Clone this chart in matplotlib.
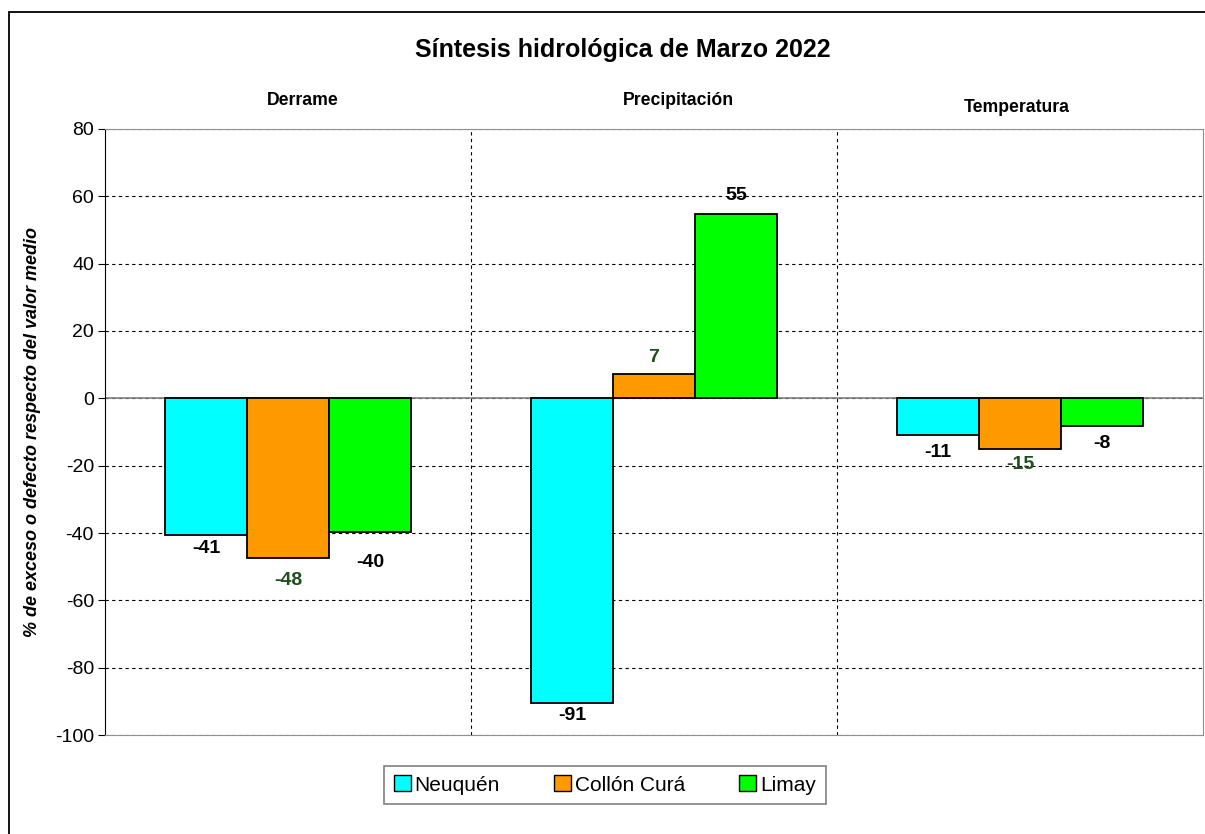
import numpy as np
import matplotlib.pyplot as plt
from matplotlib.patches import Rectangle

plt.rcParams['font.family'] = ['Liberation Sans', 'DejaVu Sans']
plt.rcParams['axes.unicode_minus'] = False

# -----------------------------
# Data
# -----------------------------
groups = ["Derrame", "Precipitación", "Temperatura"]
series = ["Neuquén", "Collón Curá", "Limay"]
neuquen = [-40.7, -90.6, -11.0]
collon_cura = [-47.5, 7.1, -15.1]
limay = [-39.8, 54.9, -8.3]

colors = ["#00FFFF", "#FF9900", "#00FF00"]
label_colors = ["black", "#1E4D1E", "black"]
# distance (px) of each value label from the bar end, per series / group
label_gaps = [[13, 12, 17], [22, 17, 15], [30, 18, 17]]

# -----------------------------
# Figure
# -----------------------------
fig = plt.figure(figsize=(12.05, 8.34), dpi=100)
ax = fig.add_axes([105 / 1205, 1 - 735 / 834, 1098 / 1205, 606 / 834])

x = np.arange(len(groups))
width = 0.224
offsets = [-width, 0, width]

for vals, off, col, lcol, gaps in zip([neuquen, collon_cura, limay], offsets, colors,
                                      label_colors, label_gaps):
    bars = ax.bar(x + off, vals, width, color=col, edgecolor="black", linewidth=1.3, zorder=3)
    for b, v, g in zip(bars, vals, gaps):
        dy = g if v >= 0 else -g
        ax.annotate(f"{round(v):.0f}", (b.get_x() + b.get_width() / 2, v),
                    xytext=(0, dy), textcoords="offset pixels",
                    ha="center", va="center", fontsize=14, fontweight="bold",
                    color=lcol, zorder=4)

ax.set_xlim(-0.5, 2.5)
ax.set_ylim(-100, 80)
ax.set_yticks(np.arange(-100, 81, 20))
ax.set_xticks([])
ax.tick_params(axis="y", labelsize=14, length=5, direction="out", pad=3)

ax.yaxis.grid(True, linestyle=(0, (3, 3)), color="black", linewidth=0.8)
ax.set_axisbelow(True)
for xs in [0.5, 1.5]:
    ax.axvline(xs, color="black", linestyle=(0, (3, 3)), linewidth=0.8, zorder=1)
ax.axhline(0, color="#808080", linewidth=1.2, zorder=2)

ax.spines["left"].set_color("black")
for s in ["top", "right", "bottom"]:
    ax.spines[s].set_color("#909090")

ax.set_ylabel("% de exceso o defecto respecto del valor medio", fontsize=13,
              fontstyle="italic", fontweight="bold")
ax.yaxis.set_label_coords(-0.058, 0.5)

# panel titles
for xi, yi, g in zip([0.041, 1.068, 1.992], [88.6, 88.6, 86.5], groups):
    ax.text(xi, yi, g, ha="center", va="center", fontsize=12.7, fontweight="bold")

fig.text(623 / 1205, 1 - 50 / 834, "Síntesis hidrológica de Marzo 2022",
         ha="center", va="center", fontsize=18, fontweight="bold")

# outer frame
fig.patches.append(Rectangle((9 / 1205, -0.05), 1.1, 1 - 12 / 834 + 0.05,
                             transform=fig.transFigure, fill=False,
                             edgecolor="black", linewidth=1.3))

handles = [Rectangle((0, 0), 1, 1, facecolor=c, edgecolor="black", linewidth=1) for c in colors]
leg = fig.legend(handles, series, loc="center", bbox_to_anchor=(605 / 1205, 1 - 785 / 834),
                 ncol=3, fontsize=15, frameon=True, fancybox=False, edgecolor="#606060",
                 handlelength=0.8, handleheight=0.8, handletextpad=0.2, columnspacing=2.6,
                 borderpad=0.45)
leg.get_frame().set_linewidth(1.2)

fig.savefig("out.png", dpi=100)
